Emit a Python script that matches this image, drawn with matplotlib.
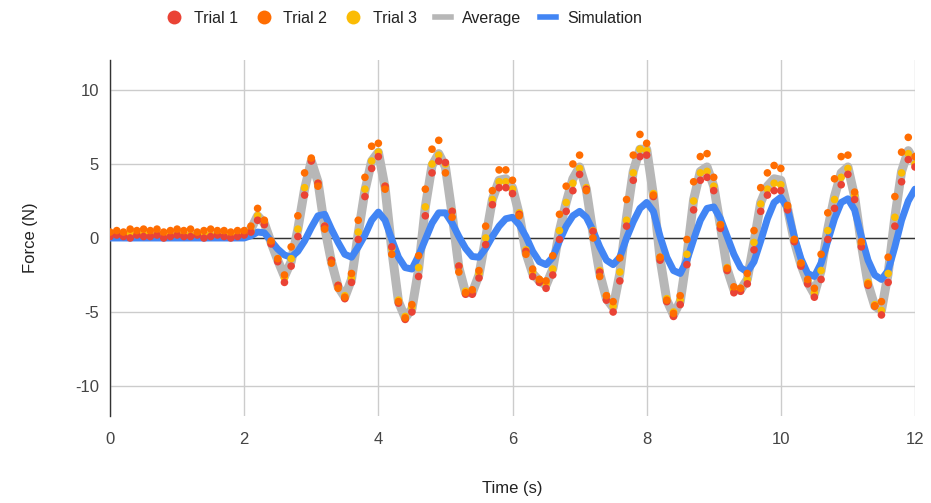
import matplotlib
matplotlib.use("Agg")
import matplotlib.pyplot as plt
from matplotlib.lines import Line2D
import numpy as np

plt.rcParams["font.family"] = ["Liberation Sans", "DejaVu Sans"]
plt.rcParams["axes.unicode_minus"] = False

# sample times (s), one reading every 0.1 s
time_s = np.linspace(0, 12, 121)

trial_1 = [
    0.1, 0.2, 0.1, 0.0, 0.2, 0.1, 0.1, 0.2, 0.0, 0.1,
    0.2, 0.1, 0.1, 0.2, 0.0, 0.1, 0.2, 0.1, 0.0, 0.1,
    0.2, 0.4, 1.2, 0.9, -0.4, -1.6, -3.0, -1.9, 0.1, 2.9,
    5.2, 3.7, 0.8, -1.5, -3.2, -4.1, -3.0, -0.1, 2.8, 4.7,
    5.5, 3.5, -0.6, -4.4, -5.5, -5.0, -2.6, 1.5, 4.4, 5.2,
    5.1, 1.8, -1.9, -3.8, -3.8, -2.7, -0.45, 2.25, 3.4, 3.4,
    3.0, 1.6, -0.9, -2.6, -3.0, -3.4, -2.5, -0.1, 1.8, 3.2,
    4.3, 3.3, 0.45, -2.3, -4.2, -5.0, -2.9, 0.8, 3.9, 5.5,
    5.6, 2.8, -1.5, -4.3, -5.3, -4.5, -1.8, 1.9, 3.9, 4.1,
    3.2, 0.65, -2.2, -3.7, -3.6, -3.1, -0.8, 1.8, 2.9, 3.2,
    3.2, 1.9, -0.25, -1.9, -3.1, -4.0, -2.8, -0.1, 2.0, 3.6,
    4.3, 2.6, -0.6, -3.2, -4.6, -5.2, -3.0, 0.8, 3.8, 5.3,
    4.8,
]

trial_2 = [
    0.4, 0.5, 0.4, 0.6, 0.5, 0.6, 0.5, 0.6, 0.4, 0.5,
    0.6, 0.5, 0.6, 0.4, 0.5, 0.6, 0.5, 0.5, 0.4, 0.5,
    0.5, 0.8, 2.0, 1.2, -0.2, -1.4, -2.5, -0.6, 1.5, 4.4,
    5.4, 3.5, 0.6, -1.7, -3.4, -4.0, -2.4, 1.2, 4.1, 6.2,
    6.4, 3.3, -1.1, -4.3, -5.4, -4.5, -1.2, 3.3, 6.0, 6.6,
    4.4, 1.4, -2.3, -3.7, -3.5, -2.2, 0.8, 3.2, 4.6, 4.6,
    3.9, 1.5, -1.1, -2.1, -2.8, -2.9, -1.2, 1.6, 3.5, 5.0,
    5.6, 3.2, 0.0, -2.6, -3.9, -4.3, -1.35, 2.6, 5.6, 7.0,
    6.4, 2.9, -1.3, -4.2, -5.1, -3.9, -0.1, 3.8, 5.5, 5.7,
    4.1, 0.9, -2.05, -3.3, -3.4, -2.4, 0.5, 3.4, 4.4, 4.9,
    4.7, 2.2, -0.1, -1.7, -2.8, -3.4, -1.1, 1.7, 4.0, 5.5,
    5.6, 3.1, -0.25, -3.1, -4.6, -4.3, -1.3, 2.8, 5.8, 6.8,
    5.5,
]

trial_3 = [
    0.3, 0.3, 0.2, 0.3, 0.3, 0.3, 0.2, 0.3, 0.3, 0.2,
    0.3, 0.3, 0.2, 0.3, 0.3, 0.2, 0.3, 0.3, 0.2, 0.3,
    0.3, 0.5, 1.5, 1.0, -0.3, -1.4, -2.7, -1.4, 0.6, 3.4,
    5.3, 3.7, 0.8, -1.5, -3.2, -3.9, -2.7, 0.4, 3.3, 5.2,
    5.8, 3.5, -0.7, -4.2, -5.3, -4.7, -2.0, 2.1, 5.0, 5.6,
    5.0, 1.8, -1.9, -3.6, -3.6, -2.4, 0.0, 2.6, 3.8, 3.8,
    3.3, 1.7, -0.8, -2.3, -2.8, -3.1, -2.1, 0.5, 2.4, 3.7,
    4.7, 3.4, 0.5, -2.2, -3.9, -4.6, -2.3, 1.2, 4.4, 6.0,
    5.9, 3.0, -1.3, -4.1, -5.0, -4.2, -1.1, 2.5, 4.4, 4.5,
    3.5, 0.9, -2.0, -3.5, -3.4, -2.8, -0.3, 2.3, 3.3, 3.7,
    3.6, 2.1, -0.1, -1.7, -2.9, -3.7, -2.2, 0.5, 2.6, 4.1,
    4.7, 2.9, -0.4, -3.0, -4.5, -4.9, -2.4, 1.4, 4.4, 5.7,
    5.0,
]

average = [
    0.1, 0.15, 0.1, 0.1, 0.15, 0.1, 0.1, 0.15, 0.1, 0.1,
    0.15, 0.1, 0.1, 0.15, 0.1, 0.1, 0.15, 0.1, 0.1, 0.15,
    0.3, 0.6, 1.5, 1.0, -0.3, -1.5, -2.6, -1.6, 0.6, 3.3,
    5.2, 3.8, 0.7, -1.6, -3.3, -4.0, -2.8, 0.3, 3.2, 5.2,
    5.8, 3.4, -0.8, -4.3, -5.4, -4.8, -2.1, 2.1, 4.9, 5.7,
    4.8, 1.6, -2.0, -3.7, -3.7, -2.5, 0.0, 2.6, 3.9, 4.0,
    3.4, 1.6, -1.0, -2.4, -2.9, -3.2, -2.1, 0.5, 2.4, 4.0,
    4.8, 3.3, 0.3, -2.4, -4.1, -4.7, -2.4, 1.4, 4.5, 6.0,
    6.0, 2.9, -1.4, -4.2, -5.2, -4.3, -1.2, 2.6, 4.5, 4.8,
    3.5, 0.8, -2.1, -3.5, -3.5, -2.8, -0.3, 2.4, 3.5, 4.0,
    3.9, 2.0, -0.2, -1.8, -3.0, -3.8, -2.2, 0.6, 2.8, 4.4,
    4.8, 2.8, -0.4, -3.1, -4.6, -4.9, -2.4, 1.4, 4.5, 5.9,
    5.1,
]

simulation = [
    0.0, 0.0, 0.0, 0.0, 0.0, 0.0, 0.0, 0.0, 0.0, 0.0,
    0.0, 0.0, 0.0, 0.0, 0.0, 0.0, 0.0, 0.0, 0.0, 0.0,
    0.0, 0.15, 0.4, 0.35, -0.2, -0.75, -1.15, -1.3, -0.9, -0.2,
    0.7, 1.5, 1.6, 0.6, -0.3, -1.1, -1.3, -0.6, 0.2, 1.2,
    1.75, 1.2, -0.1, -1.3, -2.0, -2.1, -1.2, -0.1, 1.0, 1.7,
    1.7, 1.0, 0.1, -0.7, -1.25, -1.3, -0.7, 0.1, 0.8, 1.3,
    1.4, 0.9, 0.1, -0.9, -1.6, -1.8, -1.3, -0.2, 0.8, 1.5,
    1.8, 1.4, 0.5, -0.6, -1.5, -1.8, -1.3, 0.0, 1.1, 2.0,
    2.4, 1.8, 0.1, -1.3, -2.2, -2.4, -1.5, -0.1, 1.2, 2.0,
    2.1, 1.3, 0.1, -1.1, -2.0, -2.3, -1.6, -0.2, 1.3, 2.4,
    2.75, 2.0, 0.1, -1.4, -2.4, -2.6, -1.7, -0.2, 1.3, 2.4,
    2.65, 1.9, 0.1, -1.5, -2.5, -2.8, -2.2, -0.6, 1.2, 2.5,
    3.3,
]

x_ticks = [0, 2, 4, 6, 8, 10, 12]
y_ticks = [-10, -5, 0, 5, 10]

RED = "#ea4335"
ORANGE = "#ff6d01"
YELLOW = "#fbbc04"
GRAY = "#b7b7b7"
BLUE = "#4285f4"

fig = plt.figure(figsize=(9.31, 5.03), dpi=100)
ax = fig.add_axes([0.1182, 0.1738, 0.8646, 0.7061])

# lines first, dots on top
ax.plot(time_s, average, color=GRAY, lw=6.5, solid_joinstyle="round",
        solid_capstyle="round", zorder=3)
ax.plot(time_s, simulation, color=BLUE, lw=5, solid_joinstyle="round",
        solid_capstyle="round", zorder=4)
ax.scatter(time_s, trial_3, s=30, color=YELLOW, edgecolors="none", zorder=5)
ax.scatter(time_s, trial_1, s=30, color=RED, edgecolors="none", zorder=6)
ax.scatter(time_s, trial_2, s=30, color=ORANGE, edgecolors="none", zorder=7)

ax.set_xlim(0, 12)
ax.set_ylim(-12, 12)
ax.set_xticks(x_ticks)
ax.set_yticks(y_ticks)
ax.grid(True, color="#cccccc", lw=1)
ax.set_axisbelow(True)
ax.axhline(0, color="#333333", lw=1, zorder=2)

for side in ["top", "right", "bottom"]:
    ax.spines[side].set_visible(False)
ax.spines["left"].set_color("#333333")
ax.spines["left"].set_linewidth(1)
ax.tick_params(length=0, labelsize=12, labelcolor="#444444")
ax.tick_params(axis="y", pad=8)
ax.tick_params(axis="x", pad=12)

ax.set_xlabel("Time (s)", fontsize=12, color="#222222")
ax.set_ylabel("Force (N)", fontsize=12, color="#222222")
ax.xaxis.label.set_va("center")
ax.yaxis.label.set_va("center")
ax.xaxis.set_label_coords(0.5, -0.205)
ax.yaxis.set_label_coords(-0.099, 0.5)

handles = [
    Line2D([], [], marker="o", ls="", ms=10, color=RED, mec="none", label="Trial 1"),
    Line2D([], [], marker="o", ls="", ms=10, color=ORANGE, mec="none", label="Trial 2"),
    Line2D([], [], marker="o", ls="", ms=10, color=YELLOW, mec="none", label="Trial 3"),
    Line2D([], [], color=GRAY, lw=4, label="Average"),
    Line2D([], [], color=BLUE, lw=4, label="Simulation"),
]
fig.legend(handles=handles, loc="center", bbox_to_anchor=(0.434, 0.964),
           ncol=5, frameon=False, fontsize=11.5, handlelength=1.0,
           handletextpad=0.7, columnspacing=1.15, labelcolor="#222222")

fig.savefig("out.png", dpi=100)
